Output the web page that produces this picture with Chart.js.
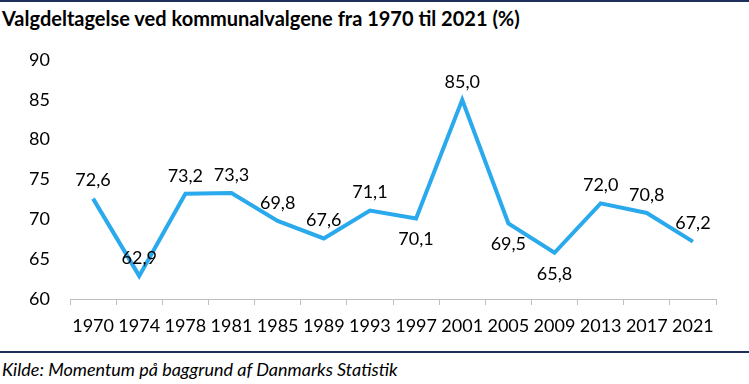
<!DOCTYPE html>
<html>
<head>
<meta charset="utf-8">
<script src="https://cdn.jsdelivr.net/npm/chart.js@4.4.1/dist/chart.umd.min.js"></script>
<style>
  html, body { margin: 0; padding: 0; background: #fff; }
  #wrap { position: relative; width: 749px; height: 384px; overflow: hidden; font-family: Lato, sans-serif; color: #000; }
  #topline { position: absolute; left: 0; top: 0; width: 749px; height: 2px; background: #1f2f5c; }
  #title { position: absolute; left: 2px; top: 6px; font-weight: bold; font-size: 20px; white-space: nowrap; }
  #bottomline { position: absolute; left: 0; top: 351px; width: 749px; height: 2px; background: #1f2f5c; }
  #source { position: absolute; left: 2px; top: 358px; font-style: italic; font-size: 18px; white-space: nowrap; }
  canvas { position: absolute; left: 0; top: 0; }
</style>
</head>
<body>
<div id="wrap">
  <div id="topline"></div>
  <div id="title">Valgdeltagelse ved kommunalvalgene fra 1970 til 2021 (%)</div>
  <canvas id="myChart" width="749" height="351"></canvas>
  <div id="bottomline"></div>
  <div id="source">Kilde: Momentum på baggrund af Danmarks Statistik</div>
</div>
<script>
// valgår og valgdeltagelse i procent
const years = ['1970', '1974', '1978', '1981', '1985', '1989', '1993', '1997', '2001', '2005', '2009', '2013', '2017', '2021'];
const turnout = [72.6, 62.9, 73.2, 73.3, 69.8, 67.6, 71.1, 70.1, 85.0, 69.5, 65.8, 72.0, 70.8, 67.2];
const yTicks = [60, 65, 70, 75, 80, 85, 90];
// hvor etiketten står i forhold til punktet
const labelSide = ['top', 'top', 'top', 'top', 'top', 'top', 'top', 'bottom', 'top', 'bottom', 'bottom', 'top', 'top', 'top'];

const tickFont = { family: 'Lato, sans-serif', size: 18 };

// tegner værdierne ved punkterne (med komma som decimaltegn)
const valueLabels = {
  id: 'valueLabels',
  afterDatasetsDraw(chart) {
    const ctx = chart.ctx;
    const meta = chart.getDatasetMeta(0);
    ctx.save();
    ctx.font = '18px Lato, sans-serif';
    ctx.fillStyle = '#000';
    ctx.textAlign = 'center';
    ctx.textBaseline = 'middle';
    meta.data.forEach(function (pt, i) {
      const txt = turnout[i].toFixed(1).replace('.', ',');
      const dy = labelSide[i] === 'top' ? -18 : 21;
      ctx.fillText(txt, pt.x, pt.y + dy);
    });
    ctx.restore();
  }
};

const ctx = document.getElementById('myChart').getContext('2d');
const myChart = new Chart(ctx, {
  type: 'line',
  data: {
    labels: years,
    datasets: [{
      data: turnout,
      borderColor: '#2aa9ec',
      borderWidth: 4,
      pointRadius: 0,
      tension: 0,
      fill: false
    }]
  },
  options: {
    responsive: false,
    animation: false,
    layout: { padding: { top: 60, right: 33, left: 0, bottom: 0 } },
    plugins: {
      legend: { display: false },
      tooltip: { enabled: false }
    },
    scales: {
      y: {
        min: yTicks[0],
        max: yTicks[yTicks.length - 1],
        afterBuildTicks: function (scale) {
          scale.ticks = yTicks.map(v => ({ value: v }));
        },
        afterFit: function (scale) { scale.width = 70; },
        grid: { display: false, drawTicks: false },
        border: { display: false },
        ticks: { font: tickFont, color: '#000', padding: 20 }
      },
      x: {
        offset: true,
        afterFit: function (scale) { scale.height = 52; },
        grid: { drawOnChartArea: false, drawTicks: true, tickLength: 6, color: '#bfbfbf', offset: true },
        border: { color: '#bfbfbf', width: 1 },
        ticks: { font: tickFont, color: '#000', padding: 10, maxRotation: 0, autoSkip: false }
      }
    }
  },
  plugins: [valueLabels]
});
</script>
</body>
</html>
